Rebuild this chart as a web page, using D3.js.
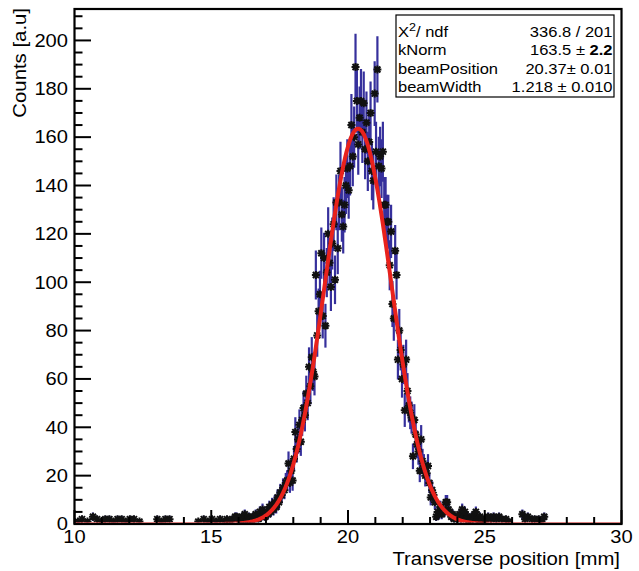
<!DOCTYPE html>
<html>
<head>
<meta charset="utf-8">
<script src="https://cdnjs.cloudflare.com/ajax/libs/d3/7.8.5/d3.min.js"></script>
<style>
  body { margin: 0; background: #fff; }
  svg { display: block; }
  text { font-family: "Liberation Sans", Arial, Helvetica, sans-serif; fill: #000; }
</style>
</head>
<body>
<div id="chart"></div>
<script>
// histogram: bins of 0.05 mm, contiguous from 16.0 to 25.0
var binWidth = 0.05;
var coreStart = 16.0;
var coreCounts = [
  2,1,3,2,4,1,2,3,2,1,3,2,4,3,2,5,3,6,4,3,
  5,4,7,5,8,6,9,7,11,9,13,12,15,14,17,18,25,17,22,18,
  27,38,31,35,41,34,43,48,45,54,50,65,57,69,63,61,103,78,88,95,
  112,86,110,82,104,120,108,98,116,124,101,133,114,133,146,128,123,132,140,147,
  138,148,165,152,160,189,175,157,168,175,162,174,155,166,150,158,170,146,142,178,
  154,188,148,152,147,154,132,132,125,125,107,121,91,85,113,103,68,80,72,60,
  66,47,68,55,49,46,44,28,43,37,33,30,22,35,26,24,20,21,24,17,
  11,14,12,9,3,5,4,7,4,6,5,9,9,6,5,3,4,2,3,2,
  3,4,2,6,3,5,2,3,1,2,3,2,4,5,2,1,3,2,2,1
];
// isolated non-empty bins in the tails [bin centre, counts]
var tailBins = [
  [10.125,1],[10.275,2],[10.475,1],[10.675,3],[10.825,2],[10.975,1],[11.125,2],[11.275,2],
  [11.425,1],[11.575,2],[11.725,2],[11.875,1],[12.025,2],[12.175,2],[12.375,1],[13.025,2],
  [13.175,1],[13.325,2],[13.475,2],[14.525,1],[14.725,2],[14.875,1],[15.025,2],[15.175,1],
  [15.325,2],[15.475,1],[15.575,2],[15.675,1],[15.775,2],[15.875,3],[15.925,3],
  [25.025,2],[25.125,3],[25.225,2],[25.325,3],[25.425,2],[25.525,3],[25.625,2],[25.775,2],
  [25.875,1],[26.375,4],[26.475,2],[26.575,3],[26.725,2],[26.825,2],[26.975,2],[27.075,1],[27.175,3]
];

// fit result (gaussian)
var kNorm = 163.5, beamPosition = 20.37, beamWidth = 1.218;
var statNames = ["kNorm", "beamPosition", "beamWidth"];
var statValues = ["163.5 ± ", "20.37± 0.01", "1.218 ± 0.010"];

var xMajor = [10, 15, 20, 25, 30];
var xMinor = d3.range(10, 31, 1);
var yMajor = [0, 20, 40, 60, 80, 100, 120, 140, 160, 180, 200];
var yMinor = d3.range(0, 211, 5);

var width = 639, height = 571;
var padL = 74.5, padR = 621.5, padT = 9, padB = 524;
var yMax = 213;

var x = d3.scaleLinear().domain([10, 30]).range([padL, padR]);
var y = d3.scaleLinear().domain([0, yMax]).range([padB, padT]);

var svg = d3.select("#chart").append("svg")
  .attr("width", width)
  .attr("height", height);

svg.append("defs").append("clipPath").attr("id", "frameClip")
  .append("rect")
  .attr("x", padL).attr("y", padT)
  .attr("width", padR - padL).attr("height", padB - padT - 1.5);

var points = [];
coreCounts.forEach(function (n, i) {
  points.push({ x: coreStart + (i + 0.5) * binWidth, n: n });
});
tailBins.forEach(function (d) { points.push({ x: d[0], n: d[1] }); });

var plot = svg.append("g").attr("clip-path", "url(#frameClip)");

// error bars sqrt(N)
plot.selectAll("line.err").data(points).enter().append("line")
  .attr("class", "err")
  .attr("x1", function (d) { return x(d.x); })
  .attr("x2", function (d) { return x(d.x); })
  .attr("y1", function (d) { return y(d.n - Math.sqrt(d.n)); })
  .attr("y2", function (d) { return y(d.n + Math.sqrt(d.n)); })
  .attr("stroke", "#36309c")
  .attr("stroke-width", 2.2);

// asterisk markers
var star = "M-4,0L4,0M0,-4L0,4M-3,-3L3,3M-3,3L3,-3";
plot.selectAll("path.mk").data(points).enter().append("path")
  .attr("class", "mk")
  .attr("d", star)
  .attr("transform", function (d) { return "translate(" + x(d.x) + "," + y(d.n) + ")"; })
  .attr("stroke", "#111")
  .attr("stroke-width", 2)
  .attr("fill", "none");

// fit curve
var fitX = d3.range(10, 30.001, 0.02);
var line = d3.line()
  .x(function (d) { return x(d); })
  .y(function (d) { return y(kNorm * Math.exp(-0.5 * Math.pow((d - beamPosition) / beamWidth, 2))); });
plot.append("path")
  .datum(fitX)
  .attr("d", line)
  .attr("fill", "none")
  .attr("stroke", "#e8221c")
  .attr("stroke-width", 4);

// frame
svg.append("rect")
  .attr("x", padL).attr("y", padT)
  .attr("width", padR - padL).attr("height", padB - padT)
  .attr("fill", "none").attr("stroke", "#000").attr("stroke-width", 2.2);

// y ticks (pointing inside)
svg.selectAll("line.ymin").data(yMinor).enter().append("line")
  .attr("x1", padL).attr("x2", function (d) { return padL + (d % 20 === 0 ? 16.5 : 8); })
  .attr("y1", function (d) { return y(d); }).attr("y2", function (d) { return y(d); })
  .attr("stroke", "#000").attr("stroke-width", 2);

// x ticks
svg.selectAll("line.xmin").data(xMinor).enter().append("line")
  .attr("x1", function (d) { return x(d); }).attr("x2", function (d) { return x(d); })
  .attr("y1", padB).attr("y2", function (d) { return padB - (d % 5 === 0 ? 14 : 7); })
  .attr("stroke", "#000").attr("stroke-width", 2);

// tick labels (slightly wide glyphs as in the original)
var sx = 1.15;
svg.selectAll("g.ylab").data(yMajor).enter().append("g")
  .attr("transform", function (d) { return "translate(68," + y(d) + ")"; })
  .append("text")
  .attr("transform", "scale(" + sx + ",1)")
  .attr("text-anchor", "end")
  .attr("dy", "0.36em")
  .style("font-size", "17.5px")
  .text(function (d) { return d; });

svg.selectAll("g.xlab").data(xMajor).enter().append("g")
  .attr("transform", function (d) { return "translate(" + x(d) + ",543)"; })
  .append("text")
  .attr("transform", "scale(" + sx + ",1)")
  .attr("text-anchor", "middle")
  .style("font-size", "17.5px")
  .text(function (d) { return d; });

// axis titles
svg.append("g").attr("transform", "translate(620,565)")
  .append("text")
  .attr("transform", "scale(1.1,1)")
  .attr("text-anchor", "end")
  .style("font-size", "18.5px")
  .text("Transverse position [mm]");

svg.append("g").attr("transform", "translate(26,8) rotate(-90)")
  .append("text")
  .attr("transform", "scale(1.1,1)")
  .attr("text-anchor", "end")
  .style("font-size", "18.5px")
  .text("Counts [a.u]");

// stats box
var box = svg.append("g");
box.append("rect")
  .attr("x", 396).attr("y", 15)
  .attr("width", 218).attr("height", 82)
  .attr("fill", "#fff").attr("stroke", "#000").attr("stroke-width", 1.2);

var rowY = [37.3, 55.3, 73.5, 91.5];
var chi = box.append("g").attr("transform", "translate(398," + rowY[0] + ")")
  .append("text").attr("transform", "scale(1.14,1)").style("font-size", "14.5px");
chi.append("tspan").text("X");
chi.append("tspan").attr("dy", "-6").style("font-size", "11px").text("2");
chi.append("tspan").attr("dy", "6").text("/ ndf");

box.append("g").attr("transform", "translate(612.5," + rowY[0] + ")")
  .append("text").attr("transform", "scale(1.14,1)")
  .attr("text-anchor", "end").style("font-size", "14.5px")
  .text("336.8 / 201");

statNames.forEach(function (name, i) {
  box.append("g").attr("transform", "translate(398," + rowY[i + 1] + ")")
    .append("text").attr("transform", "scale(1.14,1)")
    .style("font-size", "14.5px").text(name);
  var t = box.append("g").attr("transform", "translate(612.5," + rowY[i + 1] + ")")
    .append("text").attr("transform", "scale(1.14,1)")
    .attr("text-anchor", "end").style("font-size", "14.5px");
  t.append("tspan").text(statValues[i]);
  if (i === 0) t.append("tspan").style("font-weight", "bold").text("2.2");
});
</script>
</body>
</html>
